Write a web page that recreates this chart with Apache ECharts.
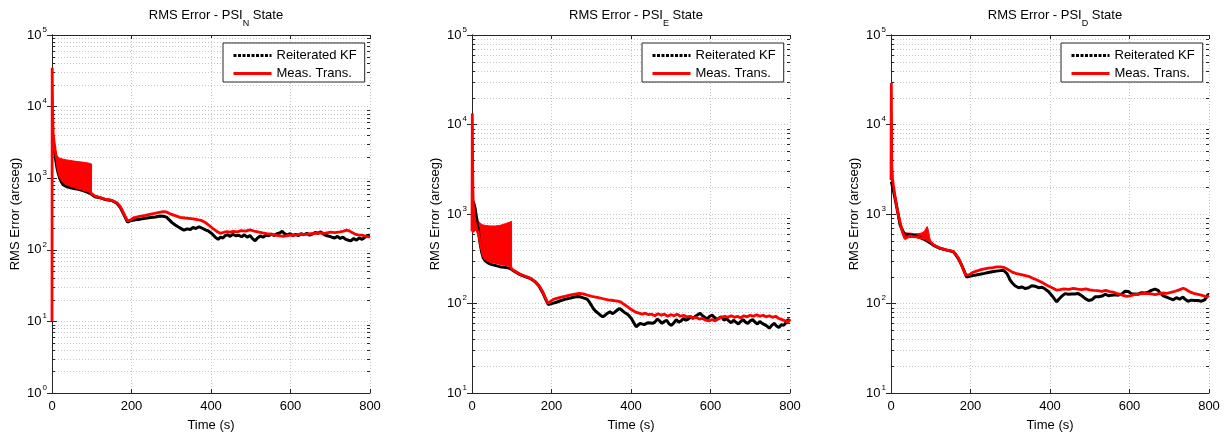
<!DOCTYPE html>
<html><head><meta charset="utf-8">
<script src="https://cdn.jsdelivr.net/npm/echarts@6/dist/echarts.min.js"></script>
<style>html,body{margin:0;padding:0;background:#fff}#c{width:1232px;height:441px}</style>
</head><body><div id="c"></div>
<script>
// ---------------- data ----------------
const xTicks = [0, 200, 400, 600, 800];
const subscripts = ['N', 'E', 'D'];
const seriesNames = ['Reiterated KF', 'Meas. Trans.'];
const yMins = [1, 10, 10];
const yMax = 100000;

// PSI_N
const psiN_KF = [[1,3600],[3,3000],[5,2600],[7.5,2100],[10,1700],[13,1350],[16,1150],[20,980],[24,880],[28,810],[33,780],[37,760],[45,740],[55,715],[66,700],[78,670],[88,640],[96,615],[100,600],[108,550],[120,535],[133,505],[150,488],[163,447],[172,390],[182,300],[190,243],[198,255],[210,262],[222,268],[235,276],[248,282],[260,288],[272,297],[280,294],[288,286],[295,262],[302,240],[310,222],[318,208],[326,196],[332,188],[340,196],[348,192],[355,206],[362,198],[370,210],[378,200],[386,190],[394,182],[400,172],[406,160],[412,148],[418,140],[424,150],[430,146],[436,158],[442,162],[448,154],[455,165],[462,157],[470,160],[477,152],[484,162],[491,150],[498,158],[505,142],[511,134],[517,146],[524,156],[531,150],[538,160],[545,157],[552,166],[559,158],[566,168],[573,172],[579,182],[585,168],[592,160],[599,168],[606,158],[613,165],[620,158],[627,168],[634,162],[641,170],[648,160],[655,166],[662,174],[669,170],[676,178],[683,165],[690,158],[697,155],[704,150],[711,146],[718,154],[725,144],[732,150],[739,140],[746,136],[752,133],[759,144],[766,136],[773,147],[780,140],[787,150],[793,158],[800,160]];
const psiN_MT = [[0,10],[0.5,35000],[1.5,9000],[3,4200],[5,3300],[8,2500],[12,1800],[16,1250],[20,1050],[28,900],[37,830],[50,780],[66,730],[80,690],[96,650],[100,605],[108,560],[120,540],[133,510],[150,490],[163,455],[172,400],[182,310],[190,252],[198,262],[205,280],[220,292],[235,302],[246,313],[258,322],[270,332],[280,340],[288,338],[297,318],[310,300],[322,284],[335,278],[350,272],[365,265],[377,255],[387,238],[397,215],[405,198],[414,182],[423,170],[432,175],[440,180],[448,176],[456,181],[466,178],[476,185],[487,182],[498,190],[508,183],[518,178],[530,172],[540,168],[550,165],[560,160],[570,158],[582,154],[592,158],[604,162],[614,160],[624,166],[636,163],[650,168],[662,170],[674,172],[686,170],[700,176],[712,174],[724,178],[734,182],[741,188],[748,184],[755,174],[762,166],[770,162],[780,160],[790,154],[800,150]];
const bandN_hi = [[4,3500],[7,2600],[10,2200],[14,2000],[20,1900],[30,1830],[45,1770],[60,1720],[75,1680],[88,1640],[96,1610],[99.5,1580]];
const bandN_lo = [[4,3300],[7,2300],[10,1850],[14,1450],[20,1100],[28,880],[37,800],[50,760],[66,720],[80,690],[96,640],[99.5,620]];

// PSI_E
const psiE_KF = [[2,1400],[5,1300],[8,1150],[10,1000],[13,800],[16,650],[20,480],[24,380],[28,325],[33,300],[40,285],[50,272],[60,265],[70,258],[80,254],[90,250],[96,246],[100,240],[106,230],[121,210],[135,199],[146,191],[158,176],[168,158],[178,132],[186,110],[192,97],[198,99],[205,101],[214,104],[224,108],[236,112],[248,115],[258,118],[266,120],[274,118],[282,115],[289,112],[294,106],[300,96],[305,88],[311,82],[317,78],[323,74],[329,71],[335,74],[341,78],[347,81],[353,77],[359,80],[365,84],[371,88],[377,84],[383,80],[389,77],[395,73],[401,68],[407,61],[413,55],[418,57],[423,60],[428,63],[433,58],[438,56],[443,61],[448,64],[454,60],[460,62],[466,67],[472,64],[478,60],[484,63],[490,65],[496,59],[502,57],[508,61],[514,66],[520,62],[526,64],[532,68],[538,65],[544,67],[550,71],[556,68],[562,72],[568,75],[574,78],[580,73],[586,70],[592,67],[598,72],[604,74],[610,70],[616,66],[622,69],[628,71],[634,65],[640,68],[646,64],[652,61],[658,65],[664,62],[670,59],[676,63],[682,66],[688,62],[694,60],[700,64],[706,66],[712,62],[718,59],[724,63],[730,60],[736,58],[742,56],[748,53],[754,57],[760,60],[766,56],[772,54],[778,58],[784,57],[790,61],[795,66],[800,64]];
const psiE_MT = [[0,640],[0.8,13300],[2,2200],[3,1350],[5,1000],[8,800],[12,680],[16,600],[20,500],[24,410],[28,345],[34,315],[42,300],[55,290],[70,280],[85,272],[96,265],[100,242],[106,232],[121,212],[135,200],[146,192],[158,178],[168,160],[178,135],[186,112],[192,100],[198,106],[205,111],[215,115],[225,118],[236,121],[246,124],[258,127],[270,130],[280,128],[290,124],[305,119],[318,116],[330,113],[342,110],[356,108],[366,106],[374,104],[382,98],[390,93],[397,88],[404,84],[412,80],[420,78],[428,76],[436,78],[444,75],[452,76],[460,73],[468,77],[476,74],[484,76],[492,72],[500,75],[508,73],[516,76],[524,72],[532,74],[540,71],[548,72],[556,69],[564,70],[572,67],[580,68],[588,65],[596,64],[604,66],[612,64],[620,68],[628,70],[636,72],[644,70],[652,73],[660,70],[668,72],[676,69],[684,73],[692,71],[700,74],[708,72],[716,75],[724,72],[732,74],[740,71],[748,73],[756,70],[764,72],[772,68],[780,66],[788,64],[795,62],[800,66]];
const bandE_hi = [[0.5,1400],[3,1350],[6,1150],[10,980],[16,830],[24,765],[33,745],[45,735],[60,735],[72,750],[84,780],[96,815],[99.5,830]];
const bandE_lo = [[0.5,620],[3,620],[6,640],[10,660],[14,620],[18,540],[22,450],[26,375],[30,330],[38,305],[50,290],[65,280],[80,272],[96,265],[99.5,255]];

// PSI_D
const psiD_KF = [[1,2300],[5,1900],[10,1500],[16,1100],[23,750],[30,640],[35,590],[45,585],[60,575],[75,540],[86,515],[94,490],[100,470],[106,450],[123,414],[140,395],[157,378],[163,350],[169,320],[175,285],[180,255],[185,225],[190,198],[198,202],[205,205],[214,208],[224,212],[235,217],[245,222],[255,226],[265,230],[275,233],[283,235],[288,226],[292,215],[296,198],[299,185],[304,172],[308,165],[312,158],[316,155],[321,150],[325,148],[329,153],[333,152],[338,147],[342,145],[346,150],[350,155],[354,158],[358,161],[362,156],[366,152],[371,150],[375,148],[380,152],[384,150],[388,145],[392,141],[396,136],[400,130],[404,124],[408,118],[413,110],[417,104],[421,110],[425,115],[429,120],[434,125],[438,129],[442,130],[446,127],[450,124],[455,128],[459,132],[463,128],[467,126],[471,129],[476,128],[480,122],[484,118],[488,114],[492,112],[497,108],[501,105],[505,110],[510,115],[514,119],[518,122],[523,119],[527,118],[531,121],[535,124],[539,127],[543,125],[547,122],[551,120],[555,124],[560,128],[564,125],[568,122],[572,124],[577,125],[581,128],[585,132],[589,137],[593,141],[597,136],[601,132],[605,128],[610,125],[614,128],[618,130],[622,127],[626,128],[630,132],[635,135],[639,131],[643,130],[647,134],[651,138],[655,140],[660,142],[664,145],[668,148],[672,140],[676,132],[680,126],[685,122],[689,120],[693,118],[697,116],[701,114],[705,112],[710,110],[714,114],[718,116],[722,113],[726,112],[730,115],[735,118],[739,112],[743,108],[747,106],[752,105],[756,109],[760,112],[764,108],[768,106],[772,108],[777,110],[781,106],[785,104],[789,110],[794,118],[797,126],[800,125]];
const psiD_MT = [[0,2400],[0.8,29000],[2,3400],[4,2500],[6,2100],[10,1600],[14,1250],[18,1000],[23,800],[28,650],[32,580],[35,540],[40,560],[48,570],[56,560],[64,555],[72,545],[80,540],[86,530],[92,510],[98,495],[106,455],[115,432],[123,416],[132,405],[140,398],[150,388],[157,380],[163,355],[169,325],[175,285],[181,245],[188,208],[192,200],[198,210],[205,222],[215,230],[224,237],[235,243],[245,248],[256,252],[266,257],[276,256],[283,254],[290,246],[297,236],[305,224],[314,217],[325,212],[333,208],[341,204],[350,198],[358,190],[366,184],[375,176],[384,168],[392,160],[400,154],[408,148],[417,141],[425,143],[435,146],[447,144],[459,148],[470,145],[480,143],[490,146],[500,142],[509,140],[520,139],[530,137],[540,140],[550,136],[559,134],[567,130],[575,127],[584,123],[593,120],[602,122],[610,125],[620,127],[632,129],[643,130],[654,128],[665,126],[675,129],[685,131],[694,130],[704,133],[715,137],[725,142],[735,148],[742,144],[748,138],[755,133],[762,130],[770,127],[778,125],[786,122],[794,118],[800,122]];
const bandD_hi = [[1,2500],[5,2300],[10,1650],[16,1200],[22,880],[28,700],[33,620],[40,615],[50,610],[60,600],[70,605],[78,615],[84,640],[88,690],[91,725],[94,660],[97,560],[99,510]];
const bandD_lo = [[1,2200],[5,2000],[10,1500],[16,1100],[22,760],[28,610],[33,530],[36,515],[42,540],[52,550],[62,550],[72,535],[82,520],[90,500],[95,490],[99,480]];

// ---------------- layout / style ----------------
const FONT = '"Liberation Sans", Arial, Helvetica, sans-serif';
const AX = '#262626';
const GRIDC = '#c6c6c6';
const gridLefts = [52, 472, 891];
const gridW = 318, gridTop = 35, gridH = 358;
const legendLefts = [223, 642, 1061];

const panels = [
  {kf: psiN_KF, mt: psiN_MT, hi: bandN_hi, lo: bandN_lo},
  {kf: psiE_KF, mt: psiE_MT, hi: bandE_hi, lo: bandE_lo},
  {kf: psiD_KF, mt: psiD_MT, hi: bandD_hi, lo: bandD_lo}
];

function minorValues(ymin) {
  const out = [];
  for (let e = Math.round(Math.log10(ymin)); e < Math.round(Math.log10(yMax)); e++) {
    for (let m = 2; m <= 9; m++) out.push([xTicks[0], m * Math.pow(10, e)]);
  }
  return out;
}
const crisp = v => Math.round(v) + 0.5;

const grid = [], xAxis = [], yAxis = [], series = [], title = [], legend = [];
const txt = {fontFamily: FONT, fontSize: 13, color: '#000', fontWeight: 'normal'};

panels.forEach((p, i) => {
  const ymin = yMins[i];
  const xmin = xTicks[0], xmax = xTicks[xTicks.length - 1];
  grid.push({left: gridLefts[i], top: gridTop, width: gridW, height: gridH, containLabel: false});
  title.push({
    text: '{a|RMS Error - PSI}{s|' + subscripts[i] + '}{a| State}',
    left: gridLefts[i] + gridW / 2, top: 4, textAlign: 'center',
    textStyle: {fontWeight: 'normal', rich: {
      a: {fontFamily: FONT, fontSize: 13, fontWeight: 'normal', color: '#000', lineHeight: 15, verticalAlign: 'top'},
      s: {fontFamily: FONT, fontSize: 9, fontWeight: 'normal', color: '#000', lineHeight: 9, padding: [10, 0, 0, 0], verticalAlign: 'top'}
    }}
  });
  xAxis.push({
    type: 'value', gridIndex: i, min: xmin, max: xmax, interval: xTicks[1] - xTicks[0],
    axisLine: {show: true, lineStyle: {color: AX, width: 1}},
    axisTick: {show: true, inside: true, length: 4, lineStyle: {color: AX}},
    axisLabel: Object.assign({margin: 7}, txt),
    splitLine: {show: true, lineStyle: {color: GRIDC, type: [1, 2], width: 1}},
    name: 'Time (s)', nameLocation: 'middle', nameGap: 26, nameTextStyle: txt
  });
  xAxis.push({
    type: 'value', gridIndex: i, position: 'top', min: xmin, max: xmax, interval: xTicks[1] - xTicks[0],
    axisLine: {show: true, lineStyle: {color: AX, width: 1}},
    axisTick: {show: true, inside: true, length: 4, lineStyle: {color: AX}},
    axisLabel: {show: false}, splitLine: {show: false}
  });
  yAxis.push({
    type: 'log', logBase: 10, gridIndex: i, min: ymin, max: yMax,
    axisLine: {show: true, lineStyle: {color: AX, width: 1}},
    axisTick: {show: true, inside: true, length: 5, lineStyle: {color: AX}},
    axisLabel: {
      margin: 5,
      formatter: v => '{b|10}{e|' + Math.round(Math.log10(v)) + '}',
      rich: {
        b: {fontFamily: FONT, fontSize: 13, color: '#000', lineHeight: 13, verticalAlign: 'bottom'},
        e: {fontFamily: FONT, fontSize: 8, color: '#000', lineHeight: 8, padding: [0, 0, 8, 1], verticalAlign: 'bottom'}
      }
    },
    splitLine: {show: true, lineStyle: {color: GRIDC, type: [1, 2], width: 1}},
    name: 'RMS Error (arcseg)', nameLocation: 'middle', nameGap: 30, nameTextStyle: txt
  });
  yAxis.push({
    type: 'log', logBase: 10, gridIndex: i, position: 'right', min: ymin, max: yMax,
    axisLine: {show: true, lineStyle: {color: AX, width: 1}},
    axisTick: {show: true, inside: true, length: 5, lineStyle: {color: AX}},
    axisLabel: {show: false}, splitLine: {show: false}
  });

  // minor grid lines + minor ticks (both sides)
  series.push({
    type: 'custom', xAxisIndex: 2 * i, yAxisIndex: 2 * i, silent: true, z: 1,
    data: minorValues(ymin),
    renderItem: (params, api) => {
      const v = api.value(1);
      const a = api.coord([xmin, v]);
      const b = api.coord([xmax, v]);
      const y = crisp(a[1]);
      return {type: 'group', children: [
        {type: 'line', shape: {x1: a[0], y1: y, x2: b[0], y2: y}, style: {stroke: GRIDC, lineWidth: 1, lineDash: [1, 2]}},
        {type: 'line', shape: {x1: a[0], y1: y, x2: a[0] + 3, y2: y}, style: {stroke: AX, lineWidth: 1}},
        {type: 'line', shape: {x1: b[0] - 3, y1: y, x2: b[0], y2: y}, style: {stroke: AX, lineWidth: 1}}
      ]};
    }
  });
  // Reiterated KF
  series.push({
    name: seriesNames[0], type: 'line', xAxisIndex: 2 * i, yAxisIndex: 2 * i, data: p.kf,
    showSymbol: false, symbol: 'none', z: 2,
    lineStyle: {color: '#000', width: 3}, itemStyle: {color: '#000'}
  });
  // Meas. Trans. oscillation envelope (drawn through the axis scales)
  series.push({
    name: 'band' + i, type: 'custom', xAxisIndex: 2 * i, yAxisIndex: 2 * i, silent: true, z: 2,
    data: [[p.hi[0][0], p.hi[0][1]]],
    renderItem: (params, api) => {
      const pts = p.hi.map(d => api.coord(d)).concat(p.lo.slice().reverse().map(d => api.coord(d)));
      return {type: 'polygon', shape: {points: pts}, style: {fill: '#ff0000', stroke: '#ff0000', lineWidth: 1}};
    }
  });
  // Meas. Trans.
  series.push({
    name: seriesNames[1], type: 'line', xAxisIndex: 2 * i, yAxisIndex: 2 * i, data: p.mt,
    showSymbol: false, symbol: 'none', z: 2,
    lineStyle: {color: '#ff0000', width: 2.8}, itemStyle: {color: '#ff0000'}
  });

  legend.push({
    show: true, type: 'plain',
    left: legendLefts[i], top: 43, orient: 'vertical',
    itemWidth: 38, itemHeight: 14, itemGap: 5, padding: [6, 8, 2, 9],
    backgroundColor: '#fff', borderColor: AX, borderWidth: 1, borderRadius: 0,
    selectedMode: false, textStyle: txt,
    data: [
      {name: seriesNames[0], itemStyle: {opacity: 0}, lineStyle: {color: '#000', width: 3, type: [3, 1.5]}},
      {name: seriesNames[1], itemStyle: {opacity: 0}, lineStyle: {color: '#ff0000', width: 3, type: 'solid'}}
    ]
  });
});

const chart = echarts.init(document.getElementById('c'), null, {renderer: 'canvas'});
chart.setOption({
  animation: false,
  backgroundColor: '#fff',
  title: title, legend: legend, grid: grid, xAxis: xAxis, yAxis: yAxis, series: series
});
</script>
</body></html>
